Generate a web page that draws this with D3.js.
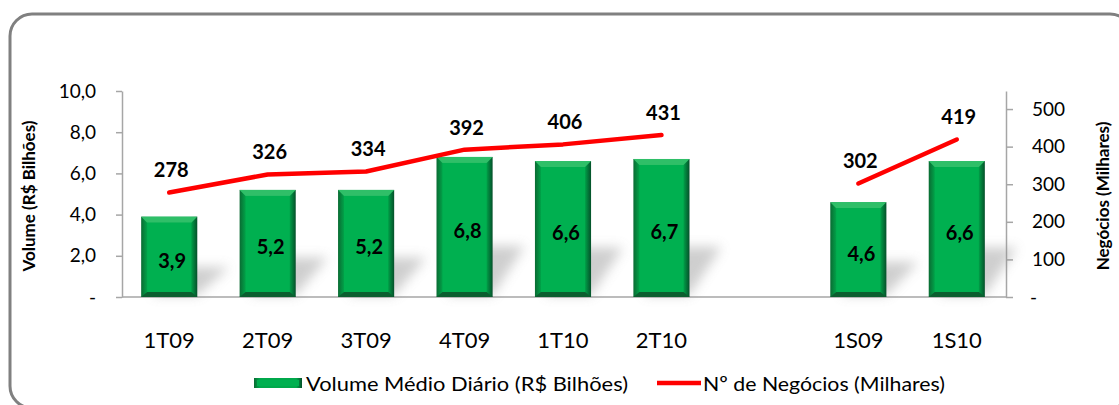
<!DOCTYPE html>
<html>
<head>
<meta charset="utf-8">
<script src="https://cdn.jsdelivr.net/npm/d3@7"></script>
<style>
  body { margin: 0; background: #fff; }
  svg text { font-family: Lato, "Open Sans", sans-serif; fill: #000; }
</style>
</head>
<body>
<svg id="chart" width="1119" height="405"></svg>
<script>
// chart data
var quarters = ["1T09", "2T09", "3T09", "4T09", "1T10", "2T10"];
var semesters = ["1S09", "1S10"];
var volQuarters = [3.9, 5.2, 5.2, 6.8, 6.6, 6.7];
var volSemesters = [4.6, 6.6];
var negQuarters = [278, 326, 334, 392, 406, 431];
var negSemesters = [302, 419];
var leftTicks = [0, 2, 4, 6, 8, 10];
var rightTicks = [0, 100, 200, 300, 400, 500];

var svg = d3.select("#chart");
var defs = svg.append("defs");

var blur = defs.append("filter").attr("id", "blur")
  .attr("x", "-50%").attr("y", "-50%").attr("width", "200%").attr("height", "200%");
blur.append("feGaussianBlur").attr("stdDeviation", 6);

var grad = defs.append("linearGradient").attr("id", "edge")
  .attr("x1", 0).attr("x2", 1).attr("y1", 0).attr("y2", 0);
grad.append("stop").attr("offset", "0%").attr("stop-color", "#0a6b33");
grad.append("stop").attr("offset", "12%").attr("stop-color", "#00a84b");
grad.append("stop").attr("offset", "88%").attr("stop-color", "#00a84b");
grad.append("stop").attr("offset", "100%").attr("stop-color", "#05502a");

// outer frame
svg.append("rect")
  .attr("x", 10).attr("y", 14).attr("width", 1122).attr("height", 394)
  .attr("rx", 22).attr("ry", 22)
  .attr("fill", "none").attr("stroke", "#808080").attr("stroke-width", 3);

var slots = quarters.concat([" "], semesters);
var x = d3.scaleBand().domain(slots).range([120, 1006]).paddingInner(0.43).paddingOuter(0.215);
var yL = d3.scaleLinear().domain([0, 10]).range([297, 91]);
var yR = d3.scaleLinear().domain([0, 548]).range([297, 91]);

var bars = quarters.map(function (c, i) { return {cat: c, vol: volQuarters[i], neg: negQuarters[i]}; })
  .concat(semesters.map(function (c, i) { return {cat: c, vol: volSemesters[i], neg: negSemesters[i]}; }));

var fmt = function (d) { return d3.format(".1f")(d).replace(".", ","); };

// left axis
var axL = svg.append("g").attr("transform", "translate(122,0)")
  .call(d3.axisLeft(yL).tickValues(leftTicks).tickSize(6).tickSizeOuter(0)
    .tickFormat(function (d) { return d === 0 ? "-" : fmt(d); }));
axL.select(".domain").attr("stroke", "#a6a6a6").attr("stroke-width", 1.5);
axL.selectAll(".tick line").attr("stroke", "#a6a6a6").attr("stroke-width", 1.5);
axL.selectAll(".tick text").attr("x", -26).style("font-size", "19px").style("font-family", "Lato");

// right axis
var axR = svg.append("g").attr("transform", "translate(1006,0)")
  .call(d3.axisRight(yR).tickValues(rightTicks).tickSize(7).tickSizeOuter(0)
    .tickFormat(function (d) { return d === 0 ? "-" : d; }));
axR.select(".domain").attr("stroke", "#a6a6a6").attr("stroke-width", 1.5);
axR.selectAll(".tick line").attr("stroke", "#a6a6a6").attr("stroke-width", 1.5);
axR.selectAll(".tick text").attr("x", 26).style("font-size", "19px").style("font-family", "Lato");
axR.selectAll(".tick").filter(function (d) { return d === 0; }).select("text").attr("x", 24);

// baseline
svg.append("line").attr("x1", 122).attr("x2", 1006).attr("y1", yL(0)).attr("y2", yL(0))
  .attr("stroke", "#a6a6a6").attr("stroke-width", 1.5);

// bar shadows
svg.append("g").selectAll("path").data(bars).enter().append("path")
  .attr("d", function (d) {
    var x0 = x(d.cat), w = x.bandwidth(), b = yL(0) - 2, h = (yL(0) - yL(d.vol)) * 0.35;
    return "M" + (x0 + 10) + "," + b + "L" + (x0 + w) + "," + b +
      "L" + (x0 + w + 32) + "," + (b - h) + "L" + (x0 + 42) + "," + (b - h) + "Z";
  })
  .attr("fill", "#8c8c8c").attr("opacity", 0.42).attr("filter", "url(#blur)");

// bars
var bg = svg.append("g").selectAll("g").data(bars).enter().append("g");
bg.append("rect")
  .attr("x", function (d) { return x(d.cat); })
  .attr("y", function (d) { return yL(d.vol); })
  .attr("width", x.bandwidth())
  .attr("height", function (d) { return yL(0) - yL(d.vol); })
  .attr("fill", "url(#edge)");
bg.append("path")
  .attr("d", function (d) {
    var x0 = x(d.cat), w = x.bandwidth(), t = yL(d.vol);
    return "M" + x0 + "," + t + "L" + (x0 + w) + "," + t + "L" + (x0 + w - 6) + "," + (t + 6) +
      "L" + (x0 + 6) + "," + (t + 6) + "Z";
  })
  .attr("fill", "#2fbf68");
bg.append("path")
  .attr("d", function (d) {
    var x0 = x(d.cat), w = x.bandwidth(), b = yL(0);
    return "M" + x0 + "," + b + "L" + (x0 + w) + "," + b + "L" + (x0 + w - 6) + "," + (b - 5) +
      "L" + (x0 + 6) + "," + (b - 5) + "Z";
  })
  .attr("fill", "#0b5e2f");
bg.append("rect")
  .attr("x", function (d) { return x(d.cat) + 6; })
  .attr("y", function (d) { return yL(d.vol) + 6; })
  .attr("width", x.bandwidth() - 12)
  .attr("height", function (d) { return yL(0) - yL(d.vol) - 11; })
  .attr("fill", "#00b050");

// bar value labels
svg.append("g").selectAll("text").data(bars).enter().append("text")
  .attr("x", function (d) { return x(d.cat) + x.bandwidth() / 2 + 3; })
  .attr("y", function (d) { return (yL(d.vol) + yL(0)) / 2 + 11; })
  .attr("text-anchor", "middle")
  .style("font-size", "20px").style("font-weight", "bold")
  .text(function (d) { return fmt(d.vol); });

// negocios lines
var line = d3.line()
  .x(function (d) { return x(d.cat) + x.bandwidth() / 2; })
  .y(function (d) { return yR(d.neg); });
[bars.slice(0, quarters.length), bars.slice(quarters.length)].forEach(function (seg) {
  svg.append("path").datum(seg).attr("d", line)
    .attr("fill", "none").attr("stroke", "#ff0000").attr("stroke-width", 4.5)
    .attr("stroke-linecap", "round").attr("stroke-linejoin", "round");
});

svg.append("g").selectAll("text").data(bars).enter().append("text")
  .attr("x", function (d) { return x(d.cat) + x.bandwidth() / 2 + 2; })
  .attr("y", function (d) { return yR(d.neg) - 15; })
  .attr("text-anchor", "middle")
  .style("font-size", "20px").style("font-weight", "bold")
  .text(function (d) { return d.neg; });

// category labels
svg.append("g").selectAll("text").data(bars).enter().append("text")
  .attr("x", function (d) { return x(d.cat) + x.bandwidth() / 2; })
  .attr("y", 348)
  .attr("text-anchor", "middle")
  .style("font-size", "22px")
  .text(function (d) { return d.cat; });

// axis titles
svg.append("text").attr("transform", "translate(35,196) rotate(-90)")
  .attr("text-anchor", "middle").style("font-size", "17px").style("font-weight", "bold")
  .text("Volume (R$ Bilhões)");
svg.append("text").attr("transform", "translate(1109,196) rotate(-90)")
  .attr("text-anchor", "middle").style("font-size", "17px").style("font-weight", "bold")
  .text("Negócios (Milhares)");

// legend
var lg = svg.append("g");
lg.append("rect").attr("x", 254).attr("y", 378).attr("width", 48).attr("height", 10).attr("fill", "url(#edge)");
lg.append("rect").attr("x", 257).attr("y", 380).attr("width", 42).attr("height", 6).attr("fill", "#00b050");
lg.append("text").attr("x", 306).attr("y", 391).style("font-size", "20px")
  .attr("textLength", 322).attr("lengthAdjust", "spacingAndGlyphs")
  .text("Volume Médio Diário (R$ Bilhões)");
lg.append("line").attr("x1", 657).attr("x2", 701).attr("y1", 383).attr("y2", 383)
  .attr("stroke", "#ff0000").attr("stroke-width", 4.5);
lg.append("text").attr("x", 703).attr("y", 391).style("font-size", "20px")
  .attr("textLength", 242).attr("lengthAdjust", "spacingAndGlyphs")
  .text("Nº de Negócios (Milhares)");
</script>
</body>
</html>
